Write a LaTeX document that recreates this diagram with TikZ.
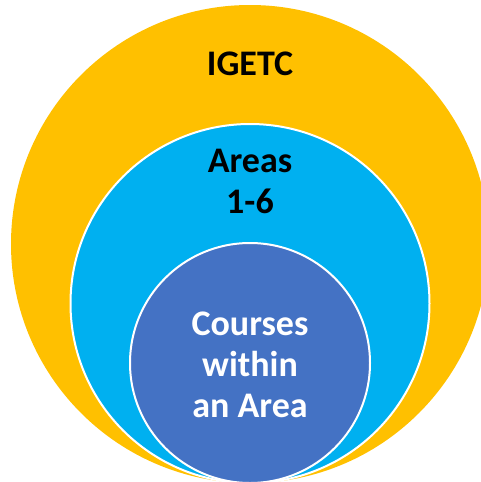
\documentclass[tikz,border=0pt]{standalone}
\usepackage{fontspec}
\setmainfont{Carlito}
\usetikzlibrary{positioning}

\definecolor{igetcorange}{HTML}{FFC000}
\definecolor{areablue}{HTML}{00B0F0}
\definecolor{coursesblue}{HTML}{4472C4}

\begin{document}
\begin{tikzpicture}[x=1pt,y=-1pt,
	ring/.style={circle,inner sep=0pt,outer sep=0pt},
	ringtext/.style={font=\fontsize{36}{41}\selectfont\bfseries,align=center,inner sep=0pt,anchor=base}]
	\useasboundingbox (0,0) rectangle (481,482);
	\node[ring,fill=igetcorange,minimum size=478pt](igetc) at (250,244){};
	\node[ring,fill=areablue,draw=white,line width=2pt,minimum size=359pt](areas) at (250,303.5){};
	\node[ring,fill=coursesblue,draw=white,line width=2pt,minimum size=240pt](courses) at (250,363){};
	
	\node[ringtext](igetclabel) at ([yshift=-70pt]igetc.north){IGETC};
	\node[ringtext](areaslabel) at ([yshift=-89pt]areas.north){Areas\\1-6};
	\node[ringtext,text=white](courseslabel) at ([yshift=-174pt]courses.north){Courses\\within\\an Area};
\end{tikzpicture}
\end{document}
